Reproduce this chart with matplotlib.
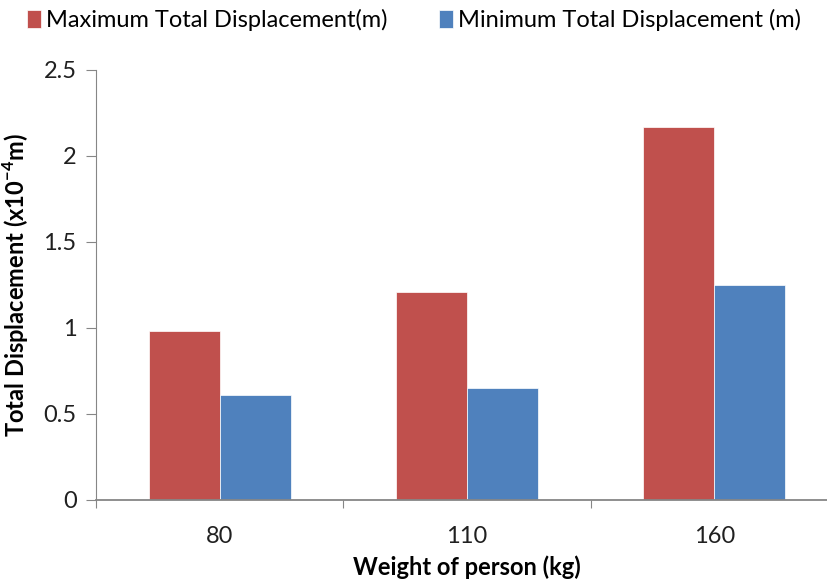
import matplotlib
matplotlib.use('Agg')

import matplotlib.pyplot as plt
import numpy as np

# values
weights = ['80', '110', '160']
max_disp = [0.98, 1.21, 2.17]
min_disp = [0.61, 0.65, 1.25]
y_ticks = [0, 0.5, 1, 1.5, 2, 2.5]
y_tick_labels = ['0', '0.5', '1', '1.5', '2', '2.5']

fnt = ['Lato', 'DejaVu Sans']
plt.rcParams['font.family'] = fnt
plt.rcParams['mathtext.fontset'] = 'custom'
plt.rcParams['mathtext.rm'] = 'Lato'
plt.rcParams['mathtext.bf'] = 'Lato:bold'

red = '#C0504D'
blue = '#4F81BD'
axcol = '#868686'

fig = plt.figure(figsize=(8.28, 5.8), dpi=100)
ax = fig.add_axes([96/828, 80/580, 742/828, 430/580])

x = np.arange(len(weights))
w = 0.287
ax.bar(x - w/2, max_disp, w, color=red, edgecolor='white', linewidth=0.5,
       label='Maximum Total Displacement(m)')
ax.bar(x + w/2, min_disp, w, color=blue, edgecolor='white', linewidth=0.5,
       label='Minimum Total Displacement (m)')

ax.set_xlim(-0.5, len(weights) - 0.5)
ax.set_ylim(0, 2.5)
ax.set_yticks(y_ticks)
ax.set_yticklabels(y_tick_labels, fontsize=17, color='#202020')

# category boundaries carry the ticks, labels sit at the centres
ax.set_xticks(np.arange(len(weights) + 1) - 0.5)
ax.set_xticklabels([])
ax.set_xticks(x, minor=True)
ax.set_xticklabels(weights, minor=True, fontsize=17, color='#202020')
ax.tick_params(axis='x', which='minor', length=0, pad=19)
ax.tick_params(axis='x', which='major', direction='out', length=6, color=axcol)
ax.tick_params(axis='y', direction='out', length=7, color=axcol, pad=7)

for s in ['top', 'right']:
    ax.spines[s].set_visible(False)
for s in ['left', 'bottom']:
    ax.spines[s].set_color(axcol)
ax.spines['bottom'].set_linewidth(1.3)

ax.set_ylabel(r'Total Displacement (x10$^{\mathbf{-4}}$m)', fontsize=17,
              fontweight='bold', labelpad=9)
ax.set_xlabel('Weight of person (kg)', fontsize=17, fontweight='bold', labelpad=6)

fig.legend(loc='center', bbox_to_anchor=(414/828, 1 - 20/580), ncol=2, frameon=False,
           fontsize=17, handlelength=0.6, handleheight=0.8, handletextpad=0.2,
           columnspacing=2.2)

plt.savefig('out.png', dpi=100)
